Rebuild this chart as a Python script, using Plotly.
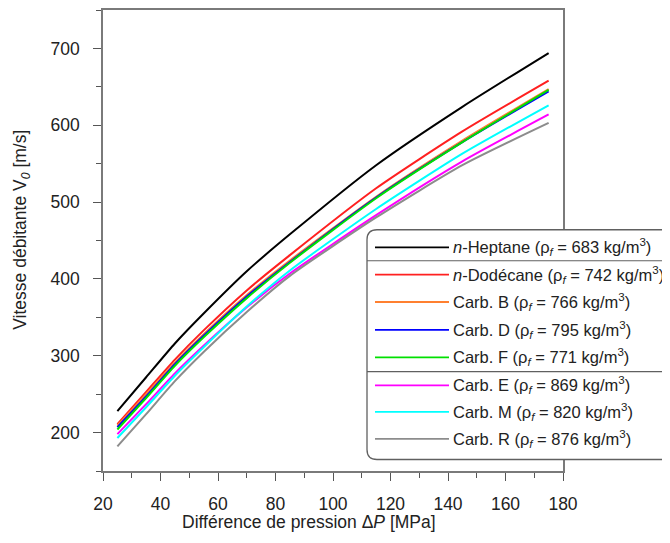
import plotly.graph_objects as go

# ---- data ----
pressure = [25, 35, 45, 55, 70, 85, 115, 145, 175]  # MPa
names = [
    "<i>n</i>-Heptane", "<i>n</i>-Dodécane", "Carb. B", "Carb. D",
    "Carb. F", "Carb. E", "Carb. M", "Carb. R",
]
densities = [683, 742, 766, 795, 771, 869, 820, 876]
heptane   = [228, 272, 316, 355, 410, 458, 548, 624, 694]
dodecane  = [211, 253, 295, 333, 385, 431, 518, 592, 658]
carb_b    = [209, 250, 291, 328, 379, 424, 507, 580, 647]
carb_d    = [207, 247, 289, 326, 377, 422, 506, 578, 644]
carb_f    = [204, 245, 287, 324, 375, 421, 505, 578, 646]
carb_e    = [198, 237, 277, 313, 363, 407, 483, 553, 614]
carb_m    = [193, 233, 274, 311, 364, 411, 491, 563, 626]
carb_r    = [182, 224, 267, 305, 357, 404, 480, 548, 603]
series = [heptane, dodecane, carb_b, carb_d, carb_f, carb_e, carb_m, carb_r]
colors = ["#000000", "#ff2020", "#ff8030", "#0000ff", "#00e000",
          "#ff00ff", "#00ffff", "#8c8c8c"]

# the page body has an 8 px margin: size the figure so it fits the window
OFF = 8
W, H = 670 - OFF, 543 - OFF
# plot box in screen pixels
PL, PR, PT, PB = 103, 563, 10, 471.5
L, R, T, B = PL - OFF, 670 - PR, PT - OFF, 543 - PB
pw, ph = PR - PL, PB - PT

def px(x):
    return (x - PL) / pw

def py(y):
    return (PB - y) / ph

FONT = "Liberation Sans, Arial, sans-serif"

fig = go.Figure()
for name, vals, col in zip(names, series, colors):
    fig.add_trace(go.Scatter(x=pressure, y=vals, mode="lines", name=name,
                             line=dict(color=col, width=2, shape="spline",
                                       smoothing=0.6),
                             showlegend=False))

axis_common = dict(
    showline=True, linecolor="#7a7a7a", linewidth=1.5, mirror=True,
    ticks="outside", ticklen=8, tickcolor="#555555", tickwidth=1.3,
    showgrid=False, zeroline=False,
    tickfont=dict(family=FONT, size=17.5, color="#222222"),
)
fig.update_xaxes(range=[20, 180], dtick=20, tick0=20, ticklabelstandoff=8,
                 minor=dict(ticks="outside", ticklen=5, dtick=10,
                            tickcolor="#555555", tickwidth=1.2),
                 **axis_common)
fig.update_yaxes(range=[150, 750], dtick=100, tick0=200, ticklabelstandoff=10,
                 minor=dict(ticks="outside", ticklen=5, dtick=50,
                            tickcolor="#555555", tickwidth=1.2),
                 **axis_common)

annotations = [
    dict(text="Différence de pression Δ<i>P</i> [MPa]", x=px(309), y=py(523),
         xref="paper", yref="paper", showarrow=False,
         font=dict(family=FONT, size=17.5, color="#222222"),
         xanchor="center", yanchor="middle"),
    dict(text="Vitesse débitante V<sub><i>0</i></sub> [m/s]", x=px(22), y=py(230),
         xref="paper", yref="paper", showarrow=False, textangle=-90,
         font=dict(family=FONT, size=17.5, color="#222222"),
         xanchor="center", yanchor="middle"),
]

shapes = []
# legend box with rounded corners
x0, x1, y0, y1, r = 367, 700, 230, 460, 10
rx, ry = r / pw, r / ph
path = (f"M {px(x0)+rx},{py(y0)} L {px(x1)},{py(y0)} L {px(x1)},{py(y1)} "
        f"L {px(x0)+rx},{py(y1)} Q {px(x0)},{py(y1)} {px(x0)},{py(y1)+ry} "
        f"L {px(x0)},{py(y0)-ry} Q {px(x0)},{py(y0)} {px(x0)+rx},{py(y0)} Z")
shapes.append(dict(type="path", path=path, xref="paper", yref="paper",
                   line=dict(color="#606060", width=1.3), fillcolor="white",
                   layer="above"))
for sy in (261, 372):
    shapes.append(dict(type="line", xref="paper", yref="paper",
                       x0=px(x0), x1=px(x1), y0=py(sy), y1=py(sy),
                       line=dict(color="#606060", width=1.2), layer="above"))

row_y = [247.7, 275, 302.3, 330.3, 357.7, 385.7, 412.3, 439.3]
for name, dens, col, yy in zip(names, densities, colors, row_y):
    shapes.append(dict(type="line", xref="paper", yref="paper",
                       x0=px(375), x1=px(449), y0=py(yy), y1=py(yy),
                       line=dict(color=col, width=1.8), layer="above"))
    annotations.append(dict(
        text=f"{name} (ρ<sub><i>f</i></sub> = {dens} kg/m<sup>3</sup>)",
        x=px(451), y=py(yy), xref="paper", yref="paper", showarrow=False,
        xanchor="left", yanchor="middle",
        font=dict(family=FONT, size=16.5, color="#222222")))

fig.update_layout(
    width=W, height=H, margin=dict(l=L, r=R, t=T, b=B, autoexpand=False),
    paper_bgcolor="white", plot_bgcolor="white",
    annotations=annotations, shapes=shapes, showlegend=False,
)
fig.write_html("out.html")
